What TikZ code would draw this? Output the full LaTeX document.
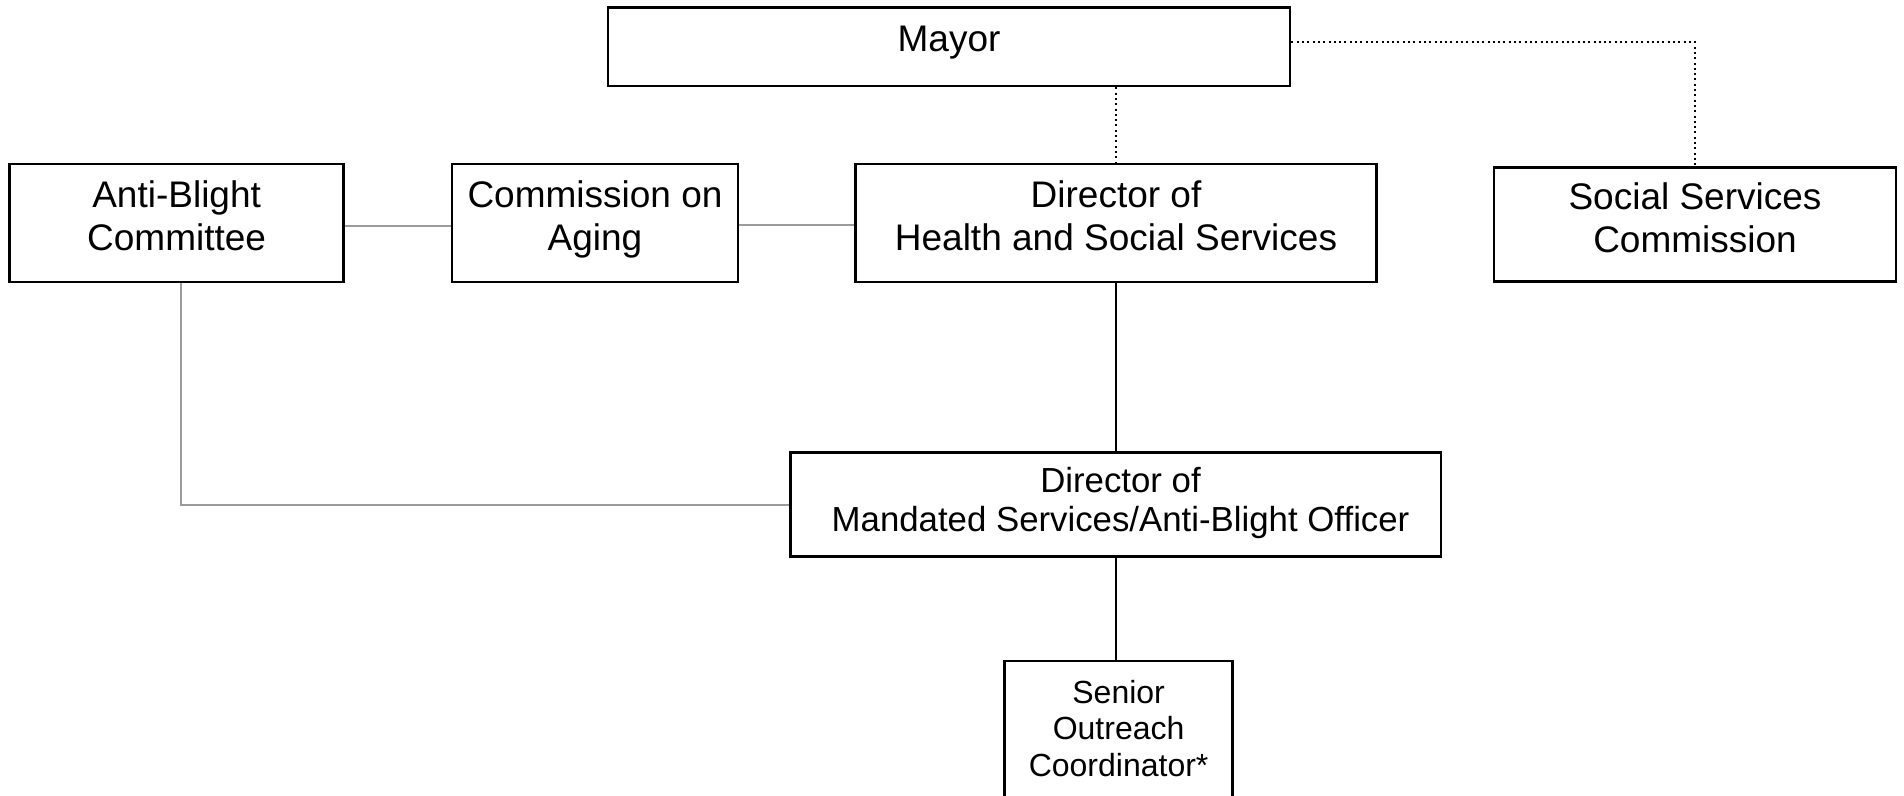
\documentclass[tikz,border=0pt]{standalone}
\usepackage{fontspec}
\setmainfont{Liberation Sans}
\begin{document}
\begin{tikzpicture}[x=0.5pt,y=-0.5pt,
  box/.style={draw=black, line width=1.4pt, inner sep=0pt, fill=white},
  lbl/.style={inner sep=0pt, align=center, anchor=base,
    font=\fontsize{18.5pt}{21.5pt}\selectfont},
  mid/.style={inner sep=0pt, align=center, anchor=base,
    font=\fontsize{17.4pt}{19.7pt}\selectfont},
  small/.style={inner sep=0pt, align=center, anchor=base,
    font=\fontsize{16pt}{18.2pt}\selectfont},
  solidlink/.style={draw=black, line width=1pt},
  greylink/.style={draw={rgb,255:red,155;green,155;blue,155}, line width=1pt},
  dotlink/.style={draw=black, line width=1pt, dash pattern=on 1pt off 1.65pt}]
\useasboundingbox (0,0) rectangle (1904,796);
\clip (0,0) rectangle (1904,796);

% boxes
\node[box, minimum width=341pt, minimum height=39.35pt] (mayor) at (949,46.6) {};
\node[box, minimum width=166.85pt, minimum height=59pt] (ab) at (176.6,223) {};
\node[box, minimum width=143pt, minimum height=59pt] (coa) at (595,223) {};
\node[box, minimum width=260.5pt, minimum height=59pt] (dhss) at (1116,223) {};
\node[box, minimum width=201pt, minimum height=57.2pt] (ssc) at (1695,224.5) {};
\node[box, minimum width=325.25pt, minimum height=52.2pt] (dms) at (1115.8,504.6) {};
\node[box, minimum width=114pt, minimum height=84.5pt] (soc) at (1118.6,745.5) {};

% texts (anchored at the baseline of the last line)
\node[lbl] (mayort) at (949,51.7) {Mayor};
\node[lbl] (abt) at (176.6,250.7) {Anti-Blight\\Committee};
\node[lbl] (coat) at (595,250.5) {Commission on\\Aging};
\node[lbl] (dhsst) at (1116,250.7) {Director of\\Health and Social Services};
\node[lbl] (ssct) at (1695,252.3) {Social Services\\Commission};
\node[mid] (dmst) at (1120.5,531.7) {Director of\\Mandated Services/Anti-Blight Officer};
\node[small] (soct) at (1118.6,776) {Senior\\Outreach\\Coordinator*};

% connectors
\draw[dotlink] ([yshift=2.2pt]mayor.east) -| (ssc.north);
\draw[dotlink] (dhss.north |- mayor.south) -- (dhss.north);
\draw[greylink] ([yshift=-1.5pt]ab.east) -- ([yshift=-1.5pt]ab.east -| coa.west);
\draw[greylink] ([yshift=-0.8pt]coa.east) -- ([yshift=-0.8pt]coa.east -| dhss.west);
\draw[greylink] ([xshift=2pt]ab.south) |- (dms.west);
\draw[solidlink] (dhss.south) -- (dhss.south |- dms.north);
\draw[solidlink] (dms.south) -- (dms.south |- soc.north);
\end{tikzpicture}
\end{document}
